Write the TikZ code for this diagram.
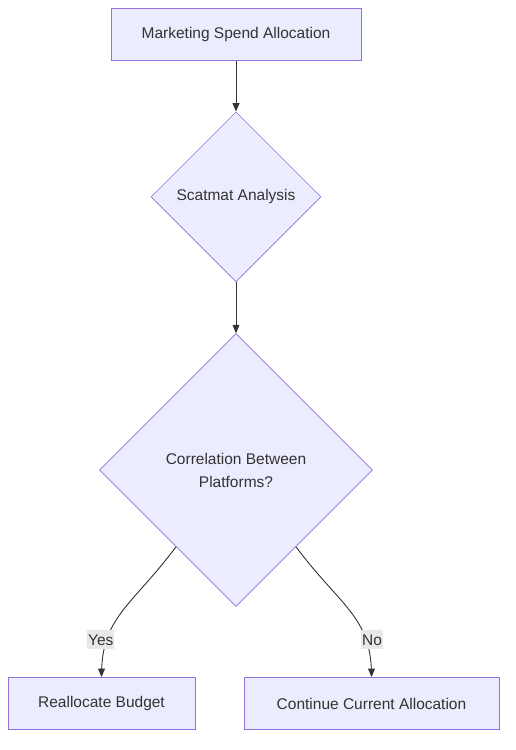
\documentclass[tikz,border=0pt]{standalone}
\usepackage{fontspec}
\setmainfont{Liberation Sans}
\usetikzlibrary{shapes, positioning, arrows, calc}
\definecolor{boxFill}{HTML}{ECECFF}
\definecolor{boxLine}{HTML}{9370DB}
\definecolor{lineColor}{HTML}{333333}
\definecolor{labelFill}{HTML}{E8E8E8}
\tikzstyle{proc}=[rectangle, draw=boxLine, fill=boxFill, line width=1pt, text=lineColor, minimum height=52pt, font=\fontsize{15.5}{18}\selectfont]
\tikzstyle{decision}=[diamond, aspect=1, draw=boxLine, fill=boxFill, line width=0.7pt, text=lineColor, align=center, inner sep=0pt, font=\fontsize{15.5}{23}\selectfont]
\tikzstyle{arrow}=[->, line width=0.9pt, >=triangle 45, draw=lineColor]
\tikzstyle{edgelabel}=[fill=labelFill, text=lineColor, inner xsep=1pt, inner ysep=4pt, font=\fontsize{15.5}{18}\selectfont]

\begin{document}
\begin{tikzpicture}[x=1pt, y=1pt, node distance=51pt]
      \useasboundingbox (0,0) rectangle (516,-750);
      \node (spend) [proc, minimum width=250pt] at (236,-34) {Marketing Spend Allocation};
      \node (scatmat) [decision, minimum width=170pt, minimum height=170pt, below=of spend] {Scatmat Analysis};
      \node (corr) [decision, minimum width=273pt, minimum height=273pt, below=of scatmat] {Correlation Between\\Platforms?};
      \node (realloc) [proc, minimum width=187pt] at (101.5,-703.5) {Reallocate Budget};
      \node (keep) [proc, minimum width=255pt] at (371.5,-703.5) {Continue Current Allocation};
      \draw [arrow] (spend) -- (scatmat);
      \draw [arrow] (scatmat) -- (corr);
      \draw [arrow] (corr.232) .. controls +(-45,-60) and +(0,60) .. node [edgelabel, pos=0.75, xshift=-6pt] {Yes} (realloc.north);
      \draw [arrow] (corr.308) .. controls +(45,-60) and +(0,60) .. node [edgelabel, pos=0.75, xshift=6pt] {No} (keep.north);
    \end{tikzpicture}
\end{document}
